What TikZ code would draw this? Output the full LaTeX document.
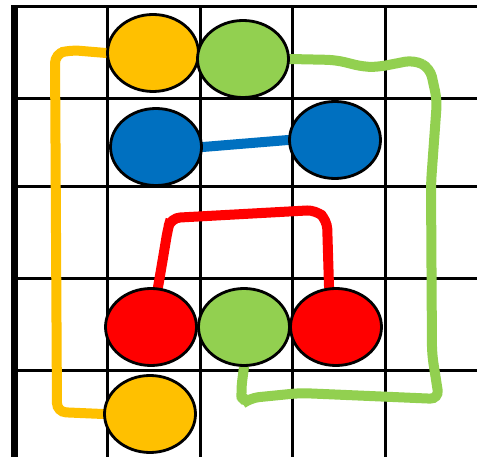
\documentclass[tikz,border=0pt]{standalone}
\usepackage[dvipsnames]{xcolor}
\usetikzlibrary{shapes.geometric}
\definecolor{tokyellow}{HTML}{FFC000}
\definecolor{tokgreen}{HTML}{92D050}
\definecolor{tokblue}{HTML}{0070C0}
\definecolor{tokred}{HTML}{FF0000}
\pgfdeclarelayer{gridlayer}
\pgfdeclarelayer{wirelayer}
\pgfsetlayers{gridlayer,wirelayer,main}
\tikzset{
  grid line/.style={draw, line width=3pt},
  dot/.style={draw, ellipse, line width=2.8pt, minimum width=91pt, minimum height=77pt, inner sep=0pt},
  wire/.style={line width=10pt, rounded corners=9pt, line cap=round}
}

\begin{document}
\begin{tikzpicture}[x=1pt, y=-1pt]
\useasboundingbox (0,0) rectangle (477,457);
% board
\begin{pgfonlayer}{gridlayer}
  \draw[grid line] (14,7) -- (477,7);
  \foreach \gy in {99,187,279,370}
    \draw[grid line] (14,\gy) -- (477,\gy);
  \foreach \gx in {107,200,292,385}
    \draw[grid line] (\gx,7) -- (\gx,457);
  \draw[line width=7pt] (14,5.5) -- (14,457);
\end{pgfonlayer}
% tokens
\node[dot, fill=tokyellow] (yT) at (153,53) {};
\node[dot, fill=tokgreen]  (gT) at (243,59) {};
\node[dot, fill=tokblue]   (bL) at (156,147) {};
\node[dot, fill=tokblue]   (bR) at (335,140) {};
\node[dot, fill=tokred]    (rL) at (151,327) {};
\node[dot, fill=tokgreen]  (gB) at (244,327) {};
\node[dot, fill=tokred]    (rR) at (336,327) {};
\node[dot, fill=tokyellow] (yB) at (150,414) {};
% connections
\begin{pgfonlayer}{wirelayer}
  \draw[wire, tokyellow] (yT.west) -- (70,50) -- (55,54) -- (57,412) -- (yB.west);
  \draw[wire, tokgreen] (gT.east) -- (336,60) -- (364,67) -- (378,67) -- (414,60)
    -- (430,68) -- (437,100) -- (431,183) -- (432,354) -- (439,399)
    -- (300,393) -- (250,398) -- (242,404) -- (241,390) -- (gB.south);
  \draw[wire, tokblue] (bL.east) -- (bR.west);
  \draw[wire, tokred] (rL.80) -- (163,258) -- (168,228) -- (171,218)
    -- (316,210) -- (327,220) -- (rR.100);
\end{pgfonlayer}
\end{tikzpicture}
\end{document}
